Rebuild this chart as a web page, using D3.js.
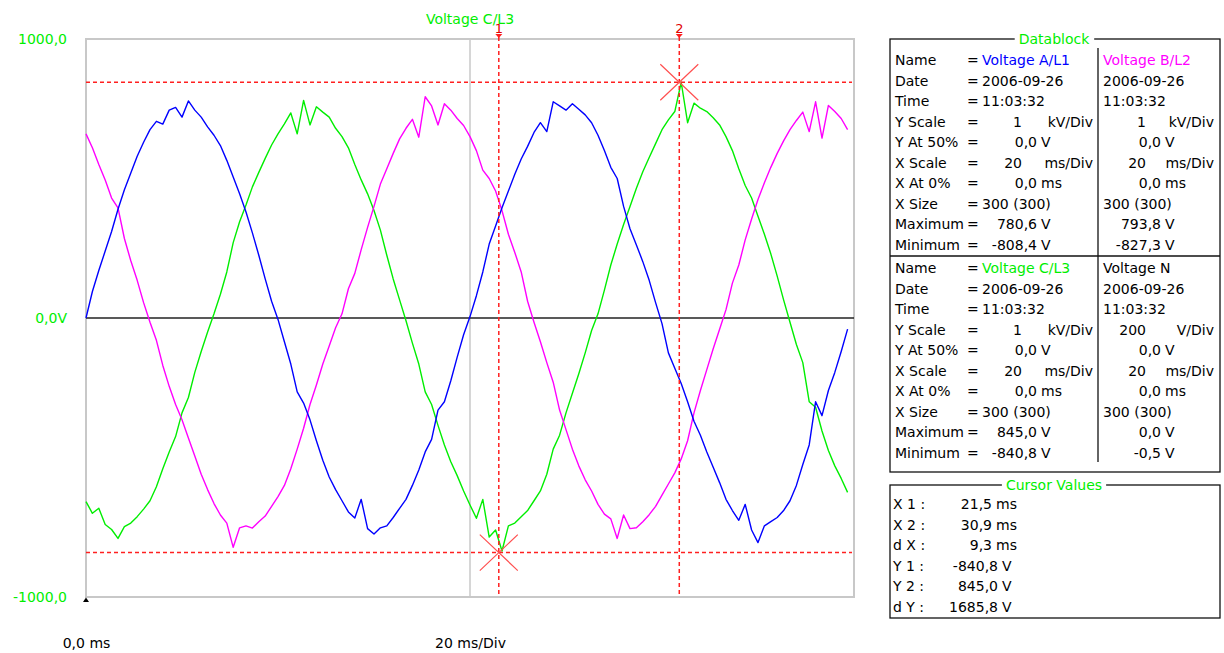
<!DOCTYPE html>
<html lang="en">
<head>
<meta charset="UTF-8">
<title>Voltage L1 L2 L3</title>
<script src="https://cdn.jsdelivr.net/npm/d3@7"></script>
<style>
    body { margin: 0; background: #fff; }
    svg { display: block; font-family: "DejaVu Sans", Verdana, sans-serif; font-size: 14px; }
</style>
</head>
<body>
<svg width="1224" height="653"></svg>

<script>
// samples, one every 1/3 ms (0 .. 39.67 ms)
const stepMs = 1 / 3;

const voltageA = [
    0, 95, 170, 240, 310, 390, 460, 520, 580, 630, 675, 705, 695, 745, 755, 720, 778, 745, 720, 685,
    655, 618, 565, 505, 445, 380, 305, 225, 140, 60, -5, -85, -165, -265, -305, -365, -440, -510, -570, -615,
    -655, -695, -717, -650, -755, -774, -752, -745, -715, -682, -650, -600, -545, -480, -435, -330, -300, -225, -140, -60,
    5, 80, 165, 265, 330, 395, 455, 515, 570, 615, 665, 700, 668, 775, 760, 745, 768, 748, 728, 700,
    655, 600, 540, 500, 400, 320, 262, 202, 135, 55, -20, -125, -180, -235, -300, -370, -420, -480, -535, -590,
    -650, -690, -725, -668, -760, -805, -745, -730, -715, -690, -655, -600, -525, -455, -300, -350, -260, -195, -120, -40
];

const voltageB = [
    660, 610, 550, 495, 430, 395, 285, 205, 135, 55, -15, -80, -170, -245, -310, -365, -430, -495, -560, -615,
    -665, -706, -735, -822, -752, -745, -753, -730, -710, -675, -640, -600, -540, -470, -395, -310, -240, -165, -100, -35,
    15, 105, 160, 245, 325, 400, 480, 535, 590, 642, 680, 712, 648, 793, 760, 692, 768, 745, 715, 690,
    650, 600, 530, 500, 455, 385, 300, 235, 165, 60, -15, -85, -160, -230, -330, -400, -470, -530, -580, -620,
    -668, -703, -720, -790, -706, -755, -752, -730, -705, -675, -635, -595, -555, -505, -440, -340, -260, -185, -110, -40,
    30, 125, 190, 280, 355, 425, 485, 540, 590, 635, 675, 708, 738, 668, 775, 645, 762, 740, 715, 675
];

const voltageC = [
    -658, -700, -682, -740, -758, -790, -748, -735, -712, -685, -655, -605, -540, -480, -425, -340, -285, -195, -120, -50,
    15, 85, 165, 270, 345, 405, 470, 522, 572, 620, 660, 696, 735, 660, 780, 692, 757, 738, 720, 680,
    650, 610, 550, 495, 445, 385, 315, 225, 140, 65, -10, -90, -165, -265, -310, -385, -455, -515, -565, -620,
    -670, -718, -650, -785, -760, -835, -745, -735, -712, -690, -655, -620, -560, -470, -420, -340, -270, -200, -125, -45,
    15, 100, 190, 265, 335, 400, 465, 524, 575, 625, 675, 710, 740, 845, 700, 770, 752, 740, 718, 692,
    650, 600, 535, 475, 430, 365, 300, 230, 150, 65, -15, -95, -160, -300, -320, -405, -475, -530, -575, -625
];

const yTickValues = [-1000, 0, 1000];
const yTickLabels = ["-1000,0", "0,0V", "1000,0"];
const xTickValues = [0, 20];
const xTickLabels = ["0,0 ms", "20 ms/Div"];

// cursors: time in ms, voltage in V
const cursorIds = ["1", "2"];
const cursorTimes = [21.5, 30.9];
const cursorVolts = [-840.8, 845.0];

// datablock
const dbLabels = ["Name", "Date", "Time", "Y Scale", "Y At 50%", "X Scale", "X At 0%", "X Size", "Maximum", "Minimum"];
const dbKinds = ["text", "text", "text", "scale", "value", "scale", "value", "text", "value", "value"];
const dbColA = ["Voltage A/L1", "2006-09-26", "11:03:32", "1", "0,0", "20", "0,0", "300 (300)", "780,6", "-808,4"];
const dbColB = ["Voltage B/L2", "2006-09-26", "11:03:32", "1", "0,0", "20", "0,0", "300 (300)", "793,8", "-827,3"];
const dbColC = ["Voltage C/L3", "2006-09-26", "11:03:32", "1", "0,0", "20", "0,0", "300 (300)", "845,0", "-840,8"];
const dbColN = ["Voltage N", "2006-09-26", "11:03:32", "200", "0,0", "20", "0,0", "300 (300)", "0,0", "-0,5"];
const dbUnitsKV = ["", "", "", "kV/Div", "V", "ms/Div", "ms", "", "V", "V"];
const dbUnitsN = ["", "", "", "V/Div", "V", "ms/Div", "ms", "", "V", "V"];

// cursor values box
const cvLabels = ["X 1 :", "X 2 :", "d X :", "Y 1 :", "Y 2 :", "d Y :"];
const cvNumbers = ["21,5", "30,9", "9,3", "-840,8", "845,0", "1685,8"];
const cvUnits = ["ms", "ms", "ms", "V", "V", "V"];

const colA = "#0000ff", colB = "#ff00ff", colC = "#00ee00", red = "#ff2020";

const svg = d3.select("svg");
const plot = { left: 86, top: 39, right: 854, bottom: 597 };

const x = d3.scaleLinear().domain([0, 40]).range([plot.left, plot.right]);
const y = d3.scaleLinear().domain([-1000, 1000]).range([plot.bottom, plot.top]);

// frame + middle division
svg.append("rect")
    .attr("x", plot.left).attr("y", plot.top)
    .attr("width", plot.right - plot.left).attr("height", plot.bottom - plot.top)
    .attr("fill", "none").attr("stroke", "#c8c8c8").attr("stroke-width", 2);
svg.append("line")
    .attr("x1", x(20)).attr("x2", x(20))
    .attr("y1", plot.top).attr("y2", plot.bottom)
    .attr("stroke", "#c8c8c8").attr("stroke-width", 1.5);
svg.append("line")
    .attr("x1", plot.left).attr("x2", plot.right)
    .attr("y1", y(0)).attr("y2", y(0))
    .attr("stroke", "#222").attr("stroke-width", 1.3);

// axes (labels only)
svg.append("g")
    .attr("transform", `translate(${plot.left},0)`)
    .call(d3.axisLeft(y).tickValues(yTickValues).tickSize(0).tickPadding(19)
        .tickFormat((d, i) => yTickLabels[i]))
    .call(g => g.select(".domain").remove())
    .attr("font-size", 14).attr("font-family", null)
    .selectAll("text").attr("fill", colC);

svg.append("g")
    .attr("transform", "translate(0,635)")
    .call(d3.axisBottom(x).tickValues(xTickValues).tickSize(0).tickPadding(3)
        .tickFormat((d, i) => xTickLabels[i]))
    .call(g => g.select(".domain").remove())
    .attr("font-size", 14).attr("font-family", null)
    .selectAll("text").attr("fill", "#000");

svg.append("path")
    .attr("d", `M${plot.left},${plot.bottom + 0.5}l-3,4.5h6z`)
    .attr("fill", "#000");

svg.append("text")
    .attr("x", 470).attr("y", 24).attr("text-anchor", "middle")
    .attr("fill", colC).text("Voltage C/L3");

// traces
const line = d3.line()
    .x((d, i) => x(i * stepMs))
    .y(d => y(d));

[[voltageC, colC], [voltageB, colB], [voltageA, colA]].forEach(([data, c]) => {
    svg.append("path")
        .datum(data)
        .attr("d", line)
        .attr("fill", "none")
        .attr("stroke", c)
        .attr("stroke-width", 1.4)
        .attr("stroke-linejoin", "round");
});

// cursors
cursorIds.forEach((id, i) => {
    const cx = x(cursorTimes[i]), cy = y(cursorVolts[i]);
    svg.append("line")
        .attr("x1", plot.left).attr("x2", plot.right - 2)
        .attr("y1", cy).attr("y2", cy)
        .attr("stroke", red).attr("stroke-width", 1.5).attr("stroke-dasharray", "4,3");
    svg.append("line")
        .attr("x1", cx).attr("x2", cx)
        .attr("y1", 37).attr("y2", plot.bottom)
        .attr("stroke", red).attr("stroke-width", 1.5).attr("stroke-dasharray", "4,3");
    svg.append("text")
        .attr("x", cx).attr("y", 33).attr("text-anchor", "middle")
        .attr("fill", "#e00000").attr("font-size", 13).text(id);
    svg.append("path")
        .attr("d", `M${cx - 3.5},34h7l-3.5,4z`)
        .attr("fill", red);
    svg.append("path")
        .attr("d", `M${cx - 19},${cy - 18}L${cx + 19},${cy + 18}M${cx - 19},${cy + 18}L${cx + 19},${cy - 18}`)
        .attr("stroke", "#ff5050").attr("stroke-width", 1.2);
});

// titled box helper
function titledBox(x0, y0, w, h, title) {
    const g = svg.append("g");
    g.append("rect")
        .attr("x", x0).attr("y", y0).attr("width", w).attr("height", h)
        .attr("fill", "none").attr("stroke", "#111").attr("stroke-width", 1.3);
    const bg = g.append("rect").attr("fill", "#fff");
    const t = g.append("text")
        .attr("x", x0 + w / 2 - 1).attr("y", y0 + 5).attr("text-anchor", "middle")
        .attr("fill", colC).text(title);
    const bb = t.node().getBBox();
    bg.attr("x", bb.x - 4).attr("y", bb.y).attr("width", bb.width + 8).attr("height", bb.height);
    return g;
}

// datablock
const db = titledBox(890, 39, 330, 433, "Datablock");
db.append("line").attr("x1", 890).attr("x2", 1220).attr("y1", 256).attr("y2", 256)
    .attr("stroke", "#111").attr("stroke-width", 1.3);
db.append("line").attr("x1", 1098).attr("x2", 1098).attr("y1", 48).attr("y2", 462)
    .attr("stroke", "#111").attr("stroke-width", 1.3);

const dbBlocks = [
    { top: 60, cols: [dbColA, dbColB], units: [dbUnitsKV, dbUnitsKV], nameColors: [colA, colB] },
    { top: 268, cols: [dbColC, dbColN], units: [dbUnitsKV, dbUnitsN], nameColors: [colC, "#000"] }
];
const colPos = [
    { text: 982, scaleNum: 1022, scaleUnit: 1093, valNum: 1037 },
    { text: 1103, scaleNum: 1146, scaleUnit: 1214, valNum: 1161 }
];

dbBlocks.forEach(b => {
    dbLabels.forEach((lab, r) => {
        const by = b.top + r * 20.5 + 5;
        db.append("text").attr("x", 895).attr("y", by).text(lab);
        db.append("text").attr("x", 967).attr("y", by).text("=");
        b.cols.forEach((col, c) => {
            const p = colPos[c];
            const kind = dbKinds[r];
            if (kind === "text") {
                db.append("text").attr("x", p.text).attr("y", by)
                    .attr("fill", r === 0 ? b.nameColors[c] : "#000")
                    .text(col[r]);
            } else if (kind === "scale") {
                db.append("text").attr("x", p.scaleNum).attr("y", by)
                    .attr("text-anchor", "end").text(col[r]);
                db.append("text").attr("x", p.scaleUnit).attr("y", by)
                    .attr("text-anchor", "end").text(b.units[c][r]);
            } else {
                db.append("text").attr("x", p.valNum).attr("y", by)
                    .attr("text-anchor", "end").text(col[r]);
                db.append("text").attr("x", p.valNum + 4).attr("y", by)
                    .text(b.units[c][r]);
            }
        });
    });
});

// cursor values
const cv = titledBox(890, 485, 330, 133, "Cursor Values");
cvLabels.forEach((lab, r) => {
    const by = 504 + r * 20.5 + 5;
    const numEnd = cvUnits[r] === "ms" ? 992 : 998;
    cv.append("text").attr("x", 893).attr("y", by).text(lab);
    cv.append("text").attr("x", numEnd).attr("y", by).attr("text-anchor", "end").text(cvNumbers[r]);
    cv.append("text").attr("x", numEnd + 4).attr("y", by).text(cvUnits[r]);
});
</script>
</body>
</html>
